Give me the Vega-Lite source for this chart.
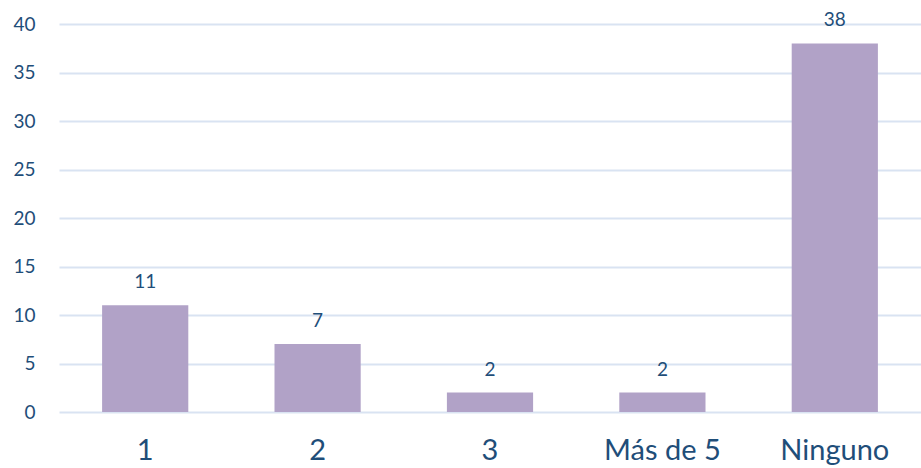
{
  "$schema": "https://vega.github.io/schema/vega-lite/v6.json",
  "autosize": "none",
  "width": 862,
  "height": 388,
  "padding": {"left": 59, "top": 24, "right": 0, "bottom": 56},
  "background": "white",
  "config": {"view": {"stroke": null}, "font": "Lato"},
  "data": {"values": [
    {"cat": "1", "value": 11},
    {"cat": "2", "value": 7},
    {"cat": "3", "value": 2},
    {"cat": "Más de 5", "value": 2},
    {"cat": "Ninguno", "value": 38}
  ]},
  "encoding": {
    "x": {"field": "cat", "type": "nominal", "sort": null,
      "scale": {"paddingInner": 0.5, "paddingOuter": 0.25},
      "axis": {"title": null, "labelAngle": 0, "domain": false, "ticks": false, "labelFontSize": 29, "labelColor": "#1F4E79", "labelPadding": 24, "labelFont": "Lato"}},
    "y": {"field": "value", "type": "quantitative",
      "scale": {"domain": [0, 40]},
      "axis": {"title": null, "values": [0,5,10,15,20,25,30,35,40], "domain": false, "ticks": false, "labelFontSize": 19, "labelColor": "#1F4E79", "labelPadding": 24, "gridColor": "#D9E3F2", "gridWidth": 2, "labelFont": "Lato"}}
  },
  "layer": [
    {"mark": {"type": "bar", "color": "#B1A2C7"}},
    {"mark": {"type": "text", "dy": -17, "baseline": "alphabetic", "fontSize": 19, "color": "#1F4E79", "font": "Lato"},
     "encoding": {"text": {"field": "value", "type": "quantitative"}}}
  ]
}
